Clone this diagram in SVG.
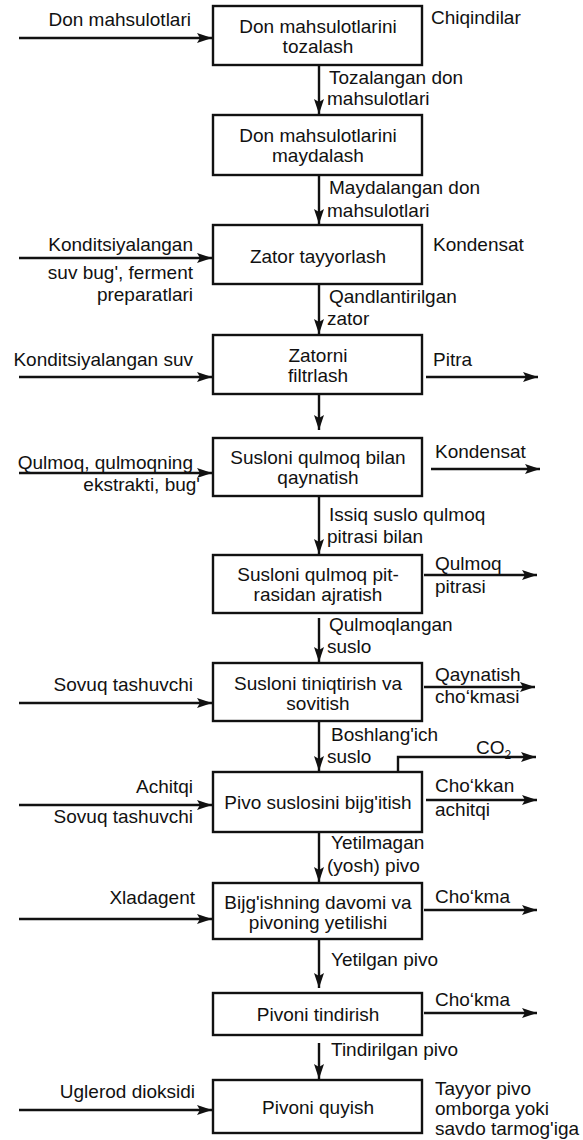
<svg xmlns="http://www.w3.org/2000/svg" width="583" height="1140" viewBox="0 0 583 1140">
<style>
text{font-family:"Liberation Sans",Arial,sans-serif;font-size:19px;fill:#111}
.c{text-anchor:middle}
.e{text-anchor:end}
.box{fill:#fff;stroke:#111;stroke-width:2.4}
.ln{fill:none;stroke:#111;stroke-width:2.4}
</style>
<defs>
<marker id="ah" markerUnits="userSpaceOnUse" markerWidth="16" markerHeight="12" refX="15" refY="5" orient="auto">
<path d="M0,0 L15,5 L0,10 L3,5 z" fill="#111"/>
</marker>
</defs>
<rect width="583" height="1140" fill="#fff"/>
<g id="connectors">
<path class="ln" d="M19,38 H212" marker-end="url(#ah)"/>
<path class="ln" d="M319,65 V114" marker-end="url(#ah)"/>
<path class="ln" d="M319,175 V224" marker-end="url(#ah)"/>
<path class="ln" d="M19,258 H212" marker-end="url(#ah)"/>
<path class="ln" d="M319,284 V334" marker-end="url(#ah)"/>
<path class="ln" d="M19,377 H212" marker-end="url(#ah)"/>
<path class="ln" d="M426,377 H538" marker-end="url(#ah)"/>
<path class="ln" d="M319,394 V430" marker-end="url(#ah)"/>
<path class="ln" d="M19,473 H212" marker-end="url(#ah)"/>
<path class="ln" d="M431,469 H540" marker-end="url(#ah)"/>
<path class="ln" d="M319,496 V554" marker-end="url(#ah)"/>
<path class="ln" d="M424,575 H537" marker-end="url(#ah)"/>
<path class="ln" d="M319,618 V662" marker-end="url(#ah)"/>
<path class="ln" d="M19,703 H212" marker-end="url(#ah)"/>
<path class="ln" d="M424,687 H535" marker-end="url(#ah)"/>
<path class="ln" d="M319,721 V771" marker-end="url(#ah)"/>
<path class="ln" d="M398,772 V757 H536" marker-end="url(#ah)"/>
<path class="ln" d="M19,805 H212" marker-end="url(#ah)"/>
<path class="ln" d="M426,800 H537" marker-end="url(#ah)"/>
<path class="ln" d="M319,832 V882" marker-end="url(#ah)"/>
<path class="ln" d="M19,919 H212" marker-end="url(#ah)"/>
<path class="ln" d="M424,910 H537" marker-end="url(#ah)"/>
<path class="ln" d="M319,939 V988" marker-end="url(#ah)"/>
<path class="ln" d="M424,1013 H537" marker-end="url(#ah)"/>
<path class="ln" d="M319,1043 V1079" marker-end="url(#ah)"/>
<path class="ln" d="M19,1110 H212" marker-end="url(#ah)"/>
</g>
<g id="labels">
<text class="e" x="191" y="26">Don mahsulotlari</text>
<text x="431" y="24">Chiqindilar</text>
<text x="329" y="84">Tozalangan don</text>
<text x="327" y="105">mahsulotlari</text>
<text x="329" y="194">Maydalangan don</text>
<text x="327" y="217">mahsulotlari</text>
<text class="e" x="193" y="251">Konditsiyalangan</text>
<text class="e" x="193" y="279">suv bug', ferment</text>
<text class="e" x="193" y="301">preparatlari</text>
<text x="433" y="251">Kondensat</text>
<text x="329" y="303">Qandlantirilgan</text>
<text x="327" y="325">zator</text>
<text class="e" x="193" y="366">Konditsiyalangan suv</text>
<text x="433" y="366">Pitra</text>
<text class="e" x="193" y="469">Qulmoq, qulmoqning</text>
<text class="e" x="200" y="491">ekstrakti, bug'</text>
<text x="435" y="458">Kondensat</text>
<text x="329" y="521">Issiq suslo qulmoq</text>
<text x="327" y="543">pitrasi bilan</text>
<text x="435" y="570">Qulmoq</text>
<text x="435" y="593">pitrasi</text>
<text x="329" y="631">Qulmoqlangan</text>
<text x="327" y="653">suslo</text>
<text class="e" x="193" y="691">Sovuq tashuvchi</text>
<text x="435" y="681">Qaynatish</text>
<text x="435" y="703">cho‘kmasi</text>
<text x="331" y="741">Boshlang'ich</text>
<text x="327" y="763">suslo</text>
<text x="476" y="754">CO<tspan font-size="12" dy="5">2</tspan></text>
<text class="e" x="193" y="793">Achitqi</text>
<text class="e" x="193" y="823">Sovuq tashuvchi</text>
<text x="435" y="792">Cho‘kkan</text>
<text x="435" y="816">achitqi</text>
<text x="331" y="849">Yetilmagan</text>
<text x="327" y="872">(yosh) pivo</text>
<text class="e" x="195" y="904">Xladagent</text>
<text x="435" y="903">Cho‘kma</text>
<text x="331" y="966">Yetilgan pivo</text>
<text x="435" y="1006">Cho‘kma</text>
<text x="331" y="1056">Tindirilgan pivo</text>
<text class="e" x="195" y="1098">Uglerod dioksidi</text>
<text x="435" y="1095">Tayyor pivo</text>
<text x="435" y="1115">omborga yoki</text>
<text x="435" y="1135">savdo tarmog'iga</text>
</g>
<g id="n1"><rect class="box" x="213" y="6" width="209" height="59"/><text class="c" x="318" y="33">Don mahsulotlarini</text><text class="c" x="318" y="53">tozalash</text></g>
<g id="n2"><rect class="box" x="213" y="115" width="209" height="60"/><text class="c" x="318" y="142">Don mahsulotlarini</text><text class="c" x="318" y="162">maydalash</text></g>
<g id="n3"><rect class="box" x="213" y="225" width="209" height="59"/><text class="c" x="318" y="263">Zator tayyorlash</text></g>
<g id="n4"><rect class="box" x="213" y="335" width="209" height="59"/><text class="c" x="318" y="362">Zatorni</text><text class="c" x="318" y="382">filtrlash</text></g>
<g id="n5"><rect class="box" x="213" y="438" width="209" height="58"/><text class="c" x="318" y="464">Susloni qulmoq bilan</text><text class="c" x="318" y="484">qaynatish</text></g>
<g id="n6"><rect class="box" x="213" y="555" width="209" height="58"/><text class="c" x="318" y="581">Susloni qulmoq pit-</text><text class="c" x="318" y="601">rasidan ajratish</text></g>
<g id="n7"><rect class="box" x="213" y="663" width="209" height="58"/><text class="c" x="318" y="690">Susloni tiniqtirish va</text><text class="c" x="318" y="710">sovitish</text></g>
<g id="n8"><rect class="box" x="213" y="772" width="209" height="60"/><text class="c" x="318" y="809">Pivo suslosini bijg'itish</text></g>
<g id="n9"><rect class="box" x="213" y="883" width="209" height="56"/><text class="c" x="318" y="909">Bijg'ishning davomi va</text><text class="c" x="318" y="929">pivoning yetilishi</text></g>
<g id="n10"><rect class="box" x="213" y="993" width="209" height="42"/><text class="c" x="318" y="1021">Pivoni tindirish</text></g>
<g id="n11"><rect class="box" x="213" y="1080" width="209" height="53"/><text class="c" x="318" y="1114">Pivoni quyish</text></g>
</svg>
